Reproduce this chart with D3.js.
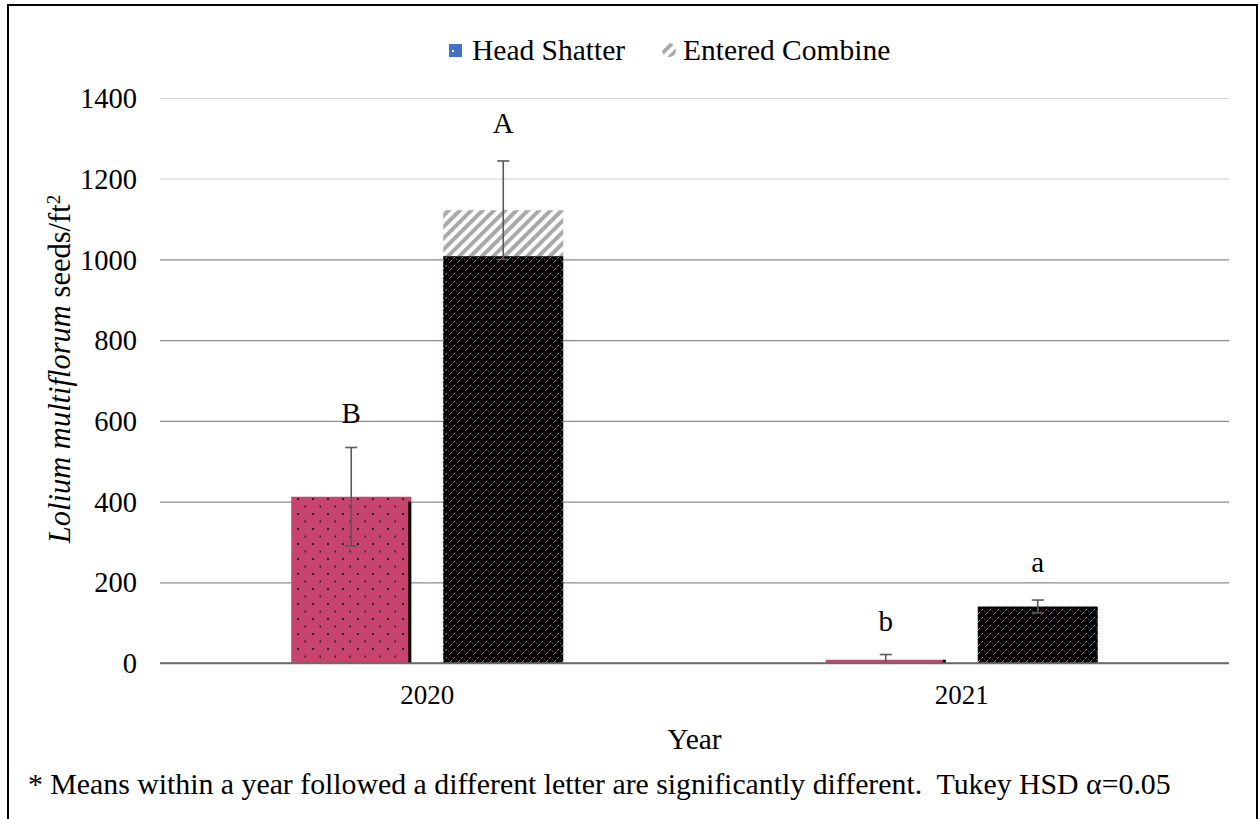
<!DOCTYPE html>
<html>
<head>
<meta charset="utf-8">
<script src="https://cdn.jsdelivr.net/npm/d3@7"></script>
<style>
  html, body { margin: 0; padding: 0; background: #fff; }
  svg { display: block; }
  text { font-family: "Liberation Serif", "Times New Roman", serif; fill: #000; }
</style>
</head>
<body>
<svg id="chart" width="1259" height="819"></svg>
<script>
// ---- data ----
const years = ["2020", "2021"];
const headShatter = [412, 8];
const headShatterErr = [122, 13];
const enteredCombineSolid = [1008, 140];
const enteredCombineTotal = [1122, 140];
const enteredCombineErr = [122, 16];
const headShatterLetters = ["B", "b"];
const enteredCombineLetters = ["A", "a"];
const yTicks = [0, 200, 400, 600, 800, 1000, 1200, 1400];
const legendLabels = ["Head Shatter", "Entered Combine"];
const seriesKeys = ["hs", "ec"];
const footnote = "* Means within a year followed a different letter are significantly different.  Tukey HSD \u03b1=0.05";

// ---- layout ----
const plot = { left: 160, right: 1229, top: 98, bottom: 663 };

const svg = d3.select("#chart");
const defs = svg.append("defs");

// dotted pink pattern
const dots = defs.append("pattern").attr("id", "dots")
  .attr("patternUnits", "userSpaceOnUse").attr("width", 15).attr("height", 15)
  .attr("x", 291).attr("y", 0);
dots.append("rect").attr("width", 15).attr("height", 15).attr("fill", "#c7446f");
dots.append("rect").attr("x", 6).attr("y", 3).attr("width", 2).attr("height", 2).attr("fill", "#2a1a22");
dots.append("rect").attr("x", 13.5).attr("y", 10.5).attr("width", 2).attr("height", 2).attr("fill", "#2a1a22");

// black noisy pattern
const noise = defs.append("pattern").attr("id", "noise")
  .attr("patternUnits", "userSpaceOnUse").attr("width", 8).attr("height", 8);
noise.append("rect").attr("width", 8).attr("height", 8).attr("fill", "#000");
[[1, 6, "#b0304a"], [2, 5, "#3fb7b7"], [3, 4, "#9a9a9a"], [5, 2, "#b0304a"], [6, 1, "#3fb7b7"], [0, 3, "#555"]]
  .forEach(([x, y, c]) => noise.append("rect").attr("x", x).attr("y", y).attr("width", 1).attr("height", 1).attr("fill", c));

// gray hatch pattern
const hatch = defs.append("pattern").attr("id", "hatch")
  .attr("patternUnits", "userSpaceOnUse").attr("width", 8).attr("height", 8)
  .attr("patternTransform", "rotate(45)");
hatch.append("rect").attr("width", 8).attr("height", 8).attr("fill", "#fff");
hatch.append("rect").attr("x", 0).attr("width", 4).attr("height", 8).attr("fill", "#a9a9a9");

// ---- scales ----
const x0 = d3.scaleBand().domain(years).range([plot.left, plot.right]).paddingInner(0).paddingOuter(0);
const x1 = d3.scaleBand().domain(seriesKeys).range([0, x0.bandwidth()]).paddingInner(0.2105).paddingOuter(0.8634);
const y = d3.scaleLinear().domain([0, 1400]).range([plot.bottom, plot.top]);

// ---- gridlines + y axis ----
const yAxis = d3.axisLeft(y).tickValues(yTicks).tickSize(-(plot.right - plot.left)).tickPadding(23).tickFormat(d3.format("d"));
const gY = svg.append("g").attr("transform", `translate(${plot.left},0)`).call(yAxis);
gY.select(".domain").remove();
gY.selectAll(".tick line")
  .attr("stroke", d => d >= 1200 ? "#d9d9d9" : (d === 0 ? "#6b6b6b" : "#8c8c8c"))
  .attr("stroke-width", d => d === 0 ? 1.5 : 1.2);
gY.selectAll(".tick text").style("font-size", "28.5px").attr("dy", "0.34em");

// ---- bars ----
const gBars = svg.append("g");
years.forEach((yr, i) => {
  const xb = x0(yr);
  const hx = xb + x1("hs");
  gBars.append("rect").attr("x", hx).attr("y", y(headShatter[i]))
    .attr("width", x1.bandwidth()).attr("height", y(0) - y(headShatter[i])).attr("fill", "url(#dots)");
  const off = i === 0 ? 5 : 0;
  gBars.append("rect").attr("x", hx + x1.bandwidth() - 3).attr("y", y(headShatter[i]) + off)
    .attr("width", 3).attr("height", y(0) - y(headShatter[i]) - off).attr("fill", "#000");
  const ex = xb + x1("ec");
  gBars.append("rect").attr("x", ex).attr("y", y(enteredCombineTotal[i]))
    .attr("width", x1.bandwidth()).attr("height", y(enteredCombineSolid[i]) - y(enteredCombineTotal[i])).attr("fill", "url(#hatch)");
  gBars.append("rect").attr("x", ex).attr("y", y(enteredCombineSolid[i]))
    .attr("width", x1.bandwidth()).attr("height", y(0) - y(enteredCombineSolid[i])).attr("fill", "url(#noise)");
});

svg.append("line").attr("x1", plot.left).attr("x2", plot.right).attr("y1", y(0)).attr("y2", y(0))
  .attr("stroke", "#6b6b6b").attr("stroke-width", 1.5);

// ---- error bars + letters ----
function errorBar(cx, v, e) {
  const lo = Math.max(0, v - e), hi = v + e;
  const g = svg.append("g").attr("stroke", "#595959").attr("stroke-width", 1.6);
  g.append("line").attr("x1", cx).attr("x2", cx).attr("y1", y(lo)).attr("y2", y(hi));
  g.append("line").attr("x1", cx - 6).attr("x2", cx + 6).attr("y1", y(hi)).attr("y2", y(hi));
  if (v - e > 0) g.append("line").attr("x1", cx - 6).attr("x2", cx + 6).attr("y1", y(lo)).attr("y2", y(lo));
}
years.forEach((yr, i) => {
  const hcx = x0(yr) + x1("hs") + x1.bandwidth() / 2;
  const ecx = x0(yr) + x1("ec") + x1.bandwidth() / 2;
  errorBar(hcx, headShatter[i], headShatterErr[i]);
  errorBar(ecx, enteredCombineTotal[i], enteredCombineErr[i]);
  svg.append("text").attr("x", hcx).attr("y", y(headShatter[i] + headShatterErr[i]) - 24)
    .attr("text-anchor", "middle").style("font-size", "29px").text(headShatterLetters[i]);
  svg.append("text").attr("x", ecx).attr("y", y(enteredCombineTotal[i] + enteredCombineErr[i]) - 28)
    .attr("text-anchor", "middle").style("font-size", "29px").text(enteredCombineLetters[i]);
});

// ---- x axis labels ----
const xAxis = d3.axisBottom(x0).tickSize(0).tickPadding(22);
const gX = svg.append("g").attr("transform", `translate(0,${plot.bottom})`).call(xAxis);
gX.select(".domain").remove();
gX.selectAll(".tick text").style("font-size", "27px");

svg.append("text").attr("x", (plot.left + plot.right) / 2).attr("y", 749)
  .attr("text-anchor", "middle").style("font-size", "29.5px").text("Year");

// ---- y title ----
const yt = svg.append("text").attr("transform", "translate(70,369) rotate(-90)")
  .attr("text-anchor", "middle").style("font-size", "30.5px");
yt.append("tspan").style("font-style", "italic").text("Lolium multiflorum");
yt.append("tspan").text(" seeds/ft");
yt.append("tspan").attr("dy", "-0.55em").style("font-size", "19px").text("2");

// ---- legend ----
const lg = svg.append("g");
lg.append("rect").attr("x", 449).attr("y", 44).attr("width", 13).attr("height", 13).attr("fill", "#4472c4");
lg.append("rect").attr("x", 452).attr("y", 50).attr("width", 2).attr("height", 2).attr("fill", "#fff");
lg.append("text").attr("x", 472).attr("y", 60).style("font-size", "29.5px").text(legendLabels[0]);
lg.append("circle").attr("cx", 669).attr("cy", 50).attr("r", 7).attr("fill", "url(#hatch)");
lg.append("text").attr("x", 683).attr("y", 60).style("font-size", "29.5px").text(legendLabels[1]);

// ---- footnote ----
svg.append("text").attr("x", 28).attr("y", 794).style("font-size", "29.8px")
  .style("white-space", "pre").attr("xml:space", "preserve").text(footnote);

// ---- frame ----
svg.append("rect").attr("x", 8).attr("y", 5).attr("width", 1249).attr("height", 830)
  .attr("fill", "none").attr("stroke", "#000").attr("stroke-width", 2);
</script>
</body>
</html>
